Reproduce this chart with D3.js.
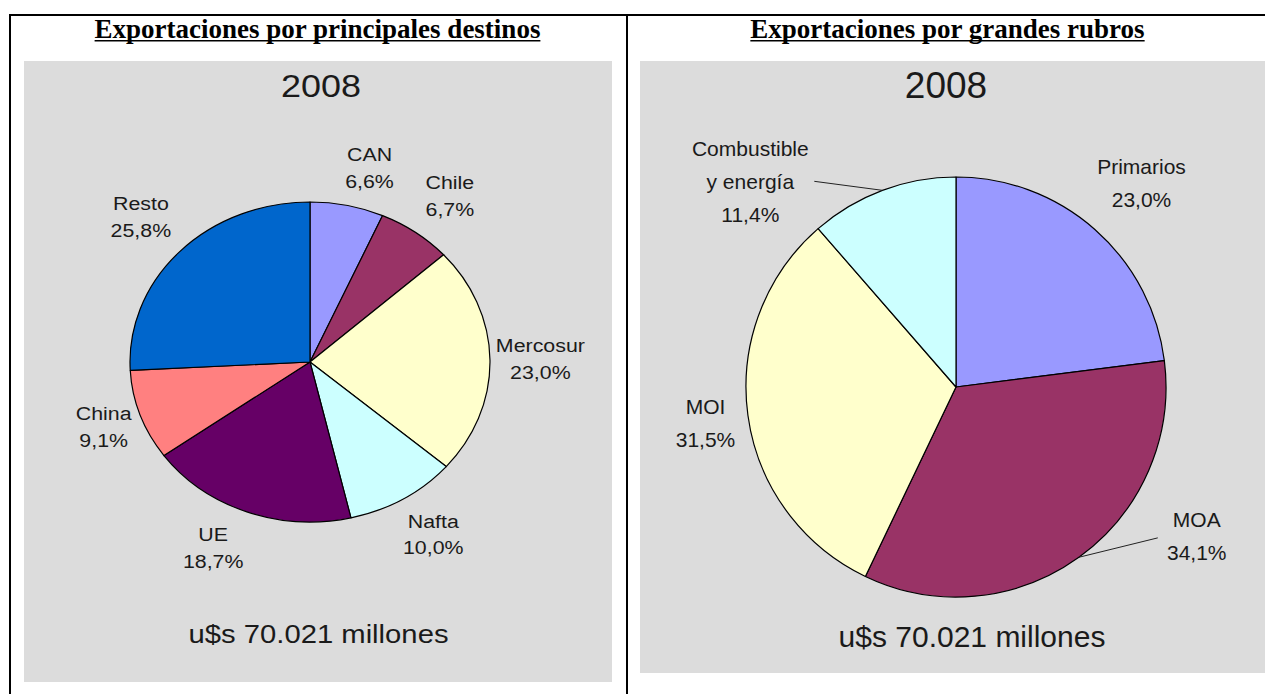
<!DOCTYPE html>
<html>
<head>
<meta charset="utf-8">
<script src="https://cdn.jsdelivr.net/npm/d3@7"></script>
<style>
  html, body { margin: 0; padding: 0; background: #ffffff; }
  svg { display: block; }
</style>
</head>
<body>
<svg id="chart" width="1265" height="694"></svg>
<script>
// ---------- data ----------
const titleLeft = "Exportaciones por principales destinos";
const titleRight = "Exportaciones por grandes rubros";
const yearLabel = "2008";
const totalLabel = "u$s 70.021 millones";

const destinos = ["CAN", "Chile", "Mercosur", "Nafta", "UE", "China", "Resto"];
const destinosPct = [6.6, 6.7, 23.0, 10.0, 18.7, 9.1, 25.8];

const rubros = ["Primarios", "MOA", "MOI", "Combustible y energía"];
const rubrosPct = [23.0, 34.1, 31.5, 11.4];

// ---------- styles ----------
const destinosColors = ["#9999FF", "#993366", "#FFFFCC", "#CCFFFF", "#660066", "#FF8080", "#0066CC"];
const rubrosColors = ["#9999FF", "#993366", "#FFFFCC", "#CCFFFF"];
const panelFill = "#dcdcdc";
const textColor = "#1a1a1a";
const sansFont = "'Liberation Sans', Arial, sans-serif";
const serifFont = "'Liberation Serif', 'Times New Roman', serif";

// label nudges (pixels, local frame) and leader offsets
const leftNudge = { "CAN": [10.7, 6], "Chile": [4.4, 0], "Mercosur": [0, -1], "Nafta": [3.6, -3],
                    "UE": [-14.2, -6], "China": [9.8, -3], "Resto": [-1.8, -4] };
const rightNudge = { "Primarios": [5, 1], "MOA": [81, -72], "MOI": [20, -1], "Combustible y energía": [-110, 50] };
const rightLeader = { "MOA": [-39, 1.5], "Combustible y energía": [64, 0] };

const fmtPct = v => d3.format(".1f")(v).replace(".", ",") + "%";

const svg = d3.select("#chart");

// ---------- frame ----------
svg.append("line").attr("x1", 9).attr("x2", 1265).attr("y1", 15).attr("y2", 15)
  .attr("stroke", "#000").attr("stroke-width", 2);
svg.append("line").attr("x1", 10).attr("x2", 10).attr("y1", 14).attr("y2", 694)
  .attr("stroke", "#000").attr("stroke-width", 2);
svg.append("line").attr("x1", 627).attr("x2", 627).attr("y1", 14).attr("y2", 694)
  .attr("stroke", "#000").attr("stroke-width", 2);

// titles with underline
function title(txt, cx) {
  const t = svg.append("text").attr("x", cx).attr("y", 38)
    .attr("text-anchor", "middle").attr("font-family", serifFont)
    .attr("font-weight", "bold").attr("font-size", 27).attr("fill", "#000").text(txt);
  const w = t.node().getComputedTextLength();
  svg.append("line").attr("x1", cx - w / 2).attr("x2", cx + w / 2)
    .attr("y1", 40.8).attr("y2", 40.8).attr("stroke", "#000").attr("stroke-width", 1.6);
}
title(titleLeft, 317.5);
title(titleRight, 947.5);

// panels
svg.append("rect").attr("x", 24).attr("y", 61).attr("width", 588).attr("height", 621).attr("fill", panelFill);
svg.append("rect").attr("x", 640).attr("y", 61).attr("width", 625).attr("height", 612).attr("fill", panelFill);

// ---------- helpers ----------
function stretchedText(parent, x, y, size, sx, txt) {
  parent.append("text")
    .attr("transform", `translate(${x},${y}) scale(${sx},1)`)
    .attr("text-anchor", "middle").attr("font-family", sansFont)
    .attr("font-size", size).attr("fill", textColor).text(txt);
}

function drawPie(opts) {
  const { cx, cy, sx, R, names, values, colors, k, nudge, fontSize, lh, leaders } = opts;
  const g = svg.append("g").attr("transform", `translate(${cx},${cy}) scale(${sx},1)`);
  const color = d3.scaleOrdinal().domain(names).range(colors);
  const arcs = d3.pie().sort(null).value(d => d.v)(names.map((n, i) => ({ n, v: values[i] })));
  const arc = d3.arc().innerRadius(0).outerRadius(R);

  g.selectAll("path.slice").data(arcs).join("path").attr("class", "slice")
    .attr("d", arc).attr("fill", d => color(d.data.n))
    .attr("stroke", "#000").attr("stroke-width", 1.2)
    .attr("stroke-linejoin", "round").attr("vector-effect", "non-scaling-stroke");

  arcs.forEach(a => {
    const mid = (a.startAngle + a.endAngle) / 2;
    const nd = nudge[a.data.n] || [0, 0];
    const lx = Math.sin(mid) * R * k + nd[0];
    const ly = -Math.cos(mid) * R * k + nd[1];
    const nameLines = a.data.n.split(" y ").map((s, i) => i === 0 ? s : "y " + s);
    const lines = nameLines.concat([fmtPct(a.data.v)]);
    const n = lines.length;
    const t = g.append("text").attr("font-family", sansFont).attr("font-size", fontSize)
      .attr("fill", textColor).attr("text-anchor", "middle");
    lines.forEach((s, i) => {
      t.append("tspan").attr("x", lx)
        .attr("y", ly + (i - (n - 1) / 2) * lh + 0.35 * fontSize).text(s);
    });
    if (leaders && leaders[a.data.n]) {
      const off = leaders[a.data.n];
      const ex = Math.sin(mid) * R, ey = -Math.cos(mid) * R;
      g.append("line").attr("x1", lx + off[0]).attr("y1", ly + off[1])
        .attr("x2", ex).attr("y2", ey)
        .attr("stroke", "#222").attr("stroke-width", 1).attr("vector-effect", "non-scaling-stroke");
    }
  });
  return g;
}

// ---------- left chart (horizontally stretched) ----------
const leftSx = 1.125;
stretchedText(svg, 321, 97, 32, leftSx, yearLabel);
drawPie({ cx: 310, cy: 362, sx: leftSx, R: 160, names: destinos, values: destinosPct,
          colors: destinosColors, k: 1.28, nudge: leftNudge, fontSize: 19, lh: 26.5 });
stretchedText(svg, 318.5, 643, 26, leftSx, totalLabel);

// ---------- right chart ----------
stretchedText(svg, 946, 98, 37, 1, yearLabel);
drawPie({ cx: 956, cy: 387, sx: 1, R: 210, names: rubros, values: rubrosPct,
          colors: rubrosColors, k: 1.3, nudge: rightNudge, fontSize: 21, lh: 33, leaders: rightLeader });
stretchedText(svg, 972, 647, 30, 1, totalLabel);
</script>
</body>
</html>
